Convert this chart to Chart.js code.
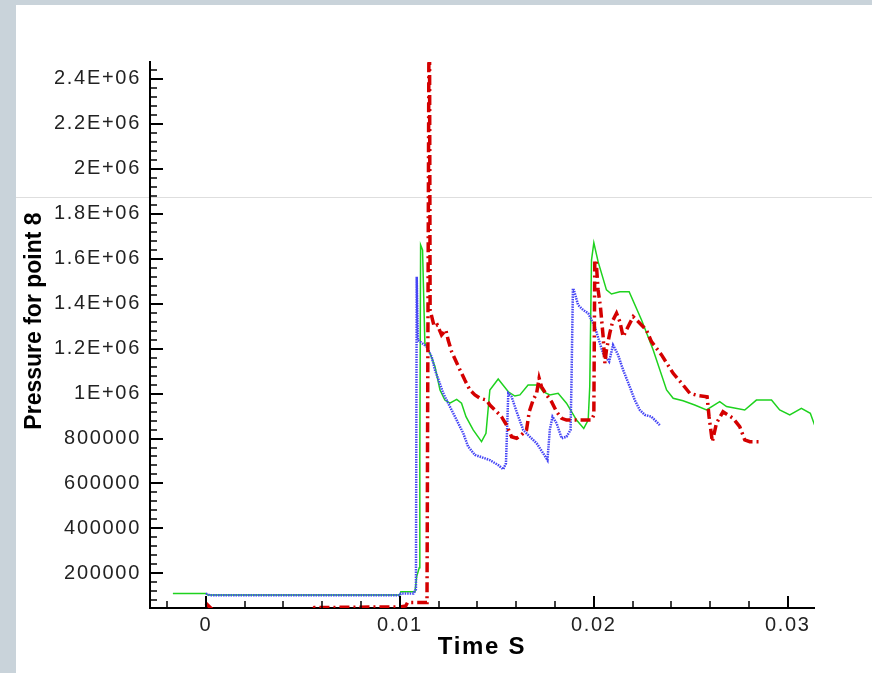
<!DOCTYPE html>
<html lang="en">
<head>
  <meta charset="UTF-8">
  <title>Pressure for point 8</title>
  <style>
    body {
      margin: 0;
      padding: 0;
      width: 872px;
      height: 673px;
      overflow: hidden;
      position: relative;
      background-color: #c9d3da;
    }
    .panel {
      position: absolute;
      left: 16px;
      top: 5px;
      width: 856px;
      height: 668px;
      background-color: #fff;
    }
    .rule {
      position: absolute;
      left: 0;
      top: 192px;
      width: 856px;
      height: 1px;
      background-color: #dedede;
    }
    canvas {
      position: absolute;
      left: 0;
      top: 0;
    }
  </style>
</head>
<body>

  <div class="panel">
    <div class="rule"></div>
    <canvas id="pressureChart" width="856" height="668"></canvas>
  </div>

  <script src="https://cdn.jsdelivr.net/npm/chart.js"></script>
  <script>
    // Axis ticks and their labels
    const xTicks = [0, 0.01, 0.02, 0.03];
    const xTickLabels = ['0', '0.01', '0.02', '0.03'];
    const yTicks = [200000, 400000, 600000, 800000, 1000000, 1200000,
                    1400000, 1600000, 1800000, 2000000, 2200000, 2400000];
    const yTickLabels = ['200000', '400000', '600000', '800000', '1E+06', '1.2E+06',
                         '1.4E+06', '1.6E+06', '1.8E+06', '2E+06', '2.2E+06', '2.4E+06'];

    // Green solid series (time in s, pressure)
    const greenT = [-0.0017, 0, 0.0001, 0.0100, 0.01005, 0.01078, 0.01087, 0.01100, 0.01103, 0.01107,
                    0.01117, 0.01129, 0.01155, 0.01181, 0.01207, 0.01232, 0.01258, 0.01293, 0.01318, 0.01341,
                    0.01378, 0.01421, 0.01444, 0.01464, 0.01507, 0.01559, 0.01593, 0.01619, 0.01661, 0.01713,
                    0.01739, 0.01773, 0.01816, 0.01859, 0.01911, 0.01948, 0.01971, 0.01979, 0.01988, 0.02000,
                    0.02022, 0.02065, 0.02091, 0.02134, 0.02182, 0.02246, 0.02306, 0.02375, 0.02409, 0.02460,
                    0.02520, 0.02581, 0.02649, 0.02684, 0.02778, 0.02838, 0.02916, 0.02958, 0.03010, 0.03070,
                    0.03116, 0.03138];
    const greenP = [111000, 111000, 104000, 104000, 118000, 118000, 187000, 225000, 700000, 1661000,
                    1639000, 1224000, 1179000, 1120000, 1016000, 971000, 957000, 974000, 957000, 897000,
                    838000, 786000, 823000, 1016000, 1065000, 1008000, 989000, 994000, 1038000, 1038000,
                    1008000, 994000, 1001000, 957000, 882000, 845000, 882000, 1031000, 1594000, 1671000,
                    1587000, 1461000, 1443000, 1453000, 1453000, 1327000, 1194000, 1016000, 979000, 968000,
                    949000, 927000, 964000, 942000, 927000, 971000, 971000, 927000, 905000, 934000,
                    912000, 860000];

    // Blue dotted series
    const blueT = [0, 0.0002, 0.0100, 0.01005, 0.0107, 0.01083, 0.01087, 0.01093, 0.01138, 0.01164,
                   0.01181, 0.01224, 0.01249, 0.01293, 0.01327, 0.01352, 0.01387, 0.01464, 0.01507, 0.01533,
                   0.01547, 0.01559, 0.01576, 0.01602, 0.01636, 0.01670, 0.01705, 0.01739, 0.01761, 0.01773,
                   0.01787, 0.01808, 0.01834, 0.01859, 0.01880, 0.01885, 0.01892, 0.01897, 0.01919, 0.01945,
                   0.01971, 0.02005, 0.02031, 0.02048, 0.02079, 0.02099, 0.02125, 0.02151, 0.02185, 0.02211,
                   0.02237, 0.02263, 0.02297, 0.02340];
    const blueP = [110000, 103000, 103000, 110000, 110000, 130000, 1520000, 1238000, 1209000, 1164000,
                   1105000, 1001000, 957000, 882000, 823000, 764000, 727000, 704000, 682000, 663000,
                   690000, 1001000, 986000, 919000, 838000, 808000, 779000, 734000, 704000, 838000,
                   897000, 868000, 801000, 808000, 838000, 1060000, 1461000, 1461000, 1394000, 1372000,
                   1357000, 1298000, 1224000, 1179000, 1142000, 1216000, 1172000, 1105000, 1031000, 971000,
                   927000, 905000, 897000, 860000];

    // Red dash-dot series
    const redT = [0, 0.0005, 0.0054, 0.0056, 0.0100, 0.0103, 0.0104, 0.0114, 0.01150, 0.01153,
                  0.01156, 0.01177, 0.01193, 0.01215, 0.01237, 0.01249, 0.01267, 0.01310, 0.01335, 0.01361,
                  0.01387, 0.01413, 0.01447, 0.01464, 0.01490, 0.01524, 0.01550, 0.01576, 0.01602, 0.01627,
                  0.01653, 0.01667, 0.01687, 0.01705, 0.01718, 0.01730, 0.01756, 0.01782, 0.01808, 0.01834,
                  0.01859, 0.01988, 0.02000, 0.02005, 0.02012, 0.02022, 0.02034, 0.02048, 0.02057, 0.02065,
                  0.02082, 0.02099, 0.02117, 0.02134, 0.02151, 0.02177, 0.02203, 0.02237, 0.02271, 0.02297,
                  0.02349, 0.02409, 0.02460, 0.02495, 0.02537, 0.02584, 0.02594, 0.02611, 0.02632, 0.02666,
                  0.02718, 0.02752, 0.02778, 0.02804, 0.02855];
    const redP = [67000, 25000, 25000, 48000, 51000, 55000, 71000, 71000, 2600000, 2600000,
                  1372000, 1298000, 1305000, 1261000, 1283000, 1238000, 1186000, 1105000, 1060000, 1016000,
                  994000, 979000, 971000, 949000, 927000, 897000, 860000, 808000, 801000, 816000,
                  838000, 919000, 971000, 1001000, 1068000, 1031000, 994000, 964000, 919000, 890000,
                  882000, 882000, 905000, 1594000, 1590000, 1461000, 1387000, 1253000, 1135000, 1194000,
                  1268000, 1327000, 1357000, 1320000, 1253000, 1298000, 1342000, 1313000, 1283000, 1231000,
                  1172000, 1090000, 1038000, 1001000, 991000, 986000, 897000, 786000, 868000, 919000,
                  890000, 853000, 794000, 786000, 786000];

    const fontFamily = '"Liberation Sans", Arial, sans-serif';

    function toPoints(ts, ps) {
      return ts.map((t, i) => ({ x: t, y: ps[i] }));
    }

    // Tick marks pointing into the plot, plus the rotated y title
    const axisDecor = {
      id: 'axisDecor',
      beforeDraw(chart) {
        chart.ctx.letterSpacing = '1.7px';
      },
      afterDraw(chart) {
        const ctx = chart.ctx;
        const xs = chart.scales.x;
        const ys = chart.scales.y;
        const { left, bottom } = chart.chartArea;
        ctx.letterSpacing = '0px';
        ctx.save();
        ctx.strokeStyle = '#000';

        // x: minor every 0.002, major every 0.01
        for (let k = -1; k <= 16; k++) {
          const v = k * 0.002;
          if (v < xs.min || v > xs.max) continue;
          const major = k % 5 === 0;
          const px = Math.round(xs.getPixelForValue(v));
          ctx.lineWidth = major ? 2 : 1.5;
          ctx.beginPath();
          ctx.moveTo(px, bottom);
          ctx.lineTo(px, bottom - (major ? 12 : 7));
          ctx.stroke();
        }

        // y: minor every 40000, major every 200000
        for (let k = 1; k <= 62; k++) {
          const v = k * 40000;
          if (v < ys.min || v > ys.max) continue;
          const major = k % 5 === 0;
          const py = Math.round(ys.getPixelForValue(v));
          ctx.lineWidth = major ? 2 : 1.5;
          ctx.beginPath();
          ctx.moveTo(left, py);
          ctx.lineTo(left + (major ? 13 : 7), py);
          ctx.stroke();
        }

        ctx.translate(19, 316);
        ctx.rotate(-Math.PI / 2);
        ctx.font = 'bold 23px ' + fontFamily;
        ctx.fillStyle = '#000';
        ctx.textAlign = 'center';
        ctx.textBaseline = 'middle';
        ctx.fillText('Pressure for point 8', 0, 0);
        ctx.restore();
      }
    };

    const ctx = document.getElementById('pressureChart').getContext('2d');

    new Chart(ctx, {
      type: 'line',
      data: {
        datasets: [
          {
            data: toPoints(redT, redP),
            borderColor: '#d40000',
            borderWidth: 3.5,
            borderDash: [10, 4, 2, 4]
          },
          {
            data: toPoints(blueT, blueP),
            borderColor: '#4646f5',
            borderWidth: 2.5,
            borderDash: [1.5, 1]
          },
          {
            data: toPoints(greenT, greenP),
            borderColor: '#1ed21e',
            borderWidth: 1.5
          }
        ]
      },
      options: {
        responsive: false,
        animation: false,
        layout: {
          padding: { top: 57, right: 58, bottom: 0, left: 0 }
        },
        elements: {
          point: { radius: 0 },
          line: { tension: 0 }
        },
        plugins: {
          legend: { display: false },
          tooltip: { enabled: false }
        },
        scales: {
          x: {
            type: 'linear',
            min: -0.00288,
            max: 0.03135,
            afterBuildTicks: scale => { scale.ticks = xTicks.map(v => ({ value: v })); },
            afterFit: scale => { scale.height = 65; },
            grid: { drawOnChartArea: false, drawTicks: false },
            border: { color: '#000', width: 2 },
            ticks: {
              font: { family: fontFamily, size: 20 },
              color: '#222',
              padding: 5,
              maxRotation: 0,
              autoSkip: false,
              callback: (value, index) => xTickLabels[index]
            },
            title: {
              display: true,
              text: 'Time S',
              color: '#000',
              font: { family: fontFamily, size: 24, weight: 'bold' },
              padding: { top: 0, bottom: 11 }
            }
          },
          y: {
            type: 'linear',
            min: 46000,
            max: 2475000,
            afterBuildTicks: scale => { scale.ticks = yTicks.map(v => ({ value: v })); },
            afterFit: scale => { scale.width = 134; },
            grid: { drawOnChartArea: false, drawTicks: false },
            border: { color: '#000', width: 2 },
            ticks: {
              font: { family: fontFamily, size: 20 },
              color: '#222',
              padding: 9,
              autoSkip: false,
              callback: (value, index) => yTickLabels[index]
            }
          }
        }
      },
      plugins: [axisDecor]
    });
  </script>
</body>
</html>
